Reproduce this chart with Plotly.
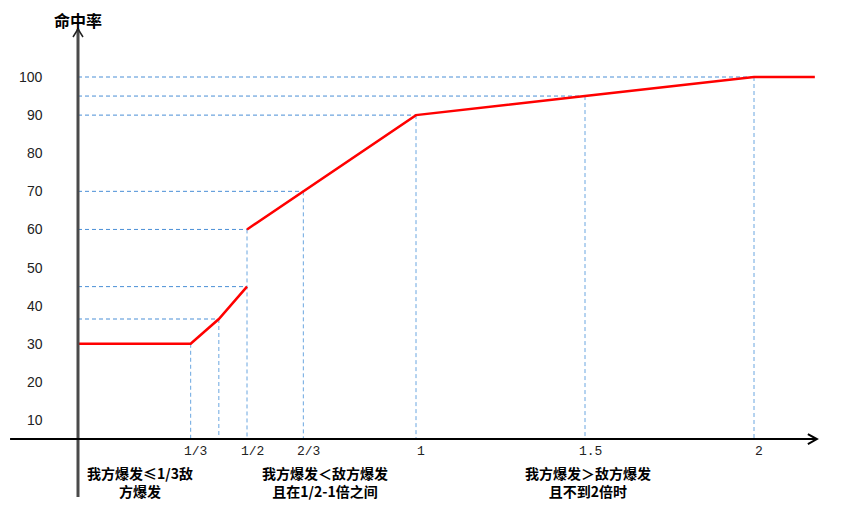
import plotly.graph_objects as go

# ratio of our burst to enemy burst (x) vs hit rate (y)
ratio_a = [0, 1/3, 5/12, 1/2]
rate_a = [30, 30, 36.5, 45]
ratio_b = [1/2, 2/3, 1, 1.5, 2, 2.18]
rate_b = [60, 70, 90, 95, 100, 100]

# points that get dashed guide lines
guide_x = [5/12, 1/2, 1/2, 2/3, 1, 1.5, 2]
guide_y = [36.5, 45, 60, 70, 90, 95, 100]
drop_x = [1/3, 5/12, 1/2, 2/3, 1, 1.5, 2]
drop_y = [30, 36.5, 60, 70, 90, 95, 100]

y_ticks = [10, 20, 30, 40, 50, 60, 70, 80, 90, 100]
x_ticks = [1/3, 1/2, 2/3, 1, 1.5, 2]
x_ticktext = ['1/3', '1/2', '2/3', '1', '1.5', '2']

regions = ['<b>我方爆发≤1/3敌<br>方爆发</b>',
           '<b>我方爆发＜敌方爆发<br>且在1/2-1倍之间</b>',
           '<b>我方爆发＞敌方爆发<br>且不到2倍时</b>']
region_x = [0.184, 0.731, 1.509]

X_AXIS_Y = 5  # where the horizontal axis crosses

# page body adds ~8px offset, so map: x px = 70 + 338*v, y px = 450.1 - 3.811*v
OX, OY = 70, 450.1
xr = [-OX / 338, (865 - OX) / 338]
yr = [(OY - 513) / 3.811, OY / 3.811]

fig = go.Figure()

hx, hy = [], []
for x, y in zip(guide_x, guide_y):
    hx += [0, x, None]
    hy += [y, y, None]
fig.add_trace(go.Scatter(x=hx, y=hy, mode='lines', hoverinfo='skip',
                         line=dict(color='#4a8fd6', width=1, dash='4px,3px')))

vx, vy = [], []
for x, y in zip(drop_x, drop_y):
    vx += [x, x, None]
    vy += [y, X_AXIS_Y, None]
fig.add_trace(go.Scatter(x=vx, y=vy, mode='lines', hoverinfo='skip',
                         line=dict(color='#6aa6e0', width=1, dash='4px,3px')))

fig.add_trace(go.Scatter(x=ratio_a + [None] + ratio_b, y=rate_a + [None] + rate_b,
                         mode='lines', line=dict(color='#ff0000', width=2.5)))

# axes with open arrowheads
dx, dy = 9 / 338, 5 / 3.811
x_end = 2.186
y_top = 112.6
fig.add_shape(type='line', x0=0, x1=0, y0=-10.2, y1=y_top,
              line=dict(color='#4a4a4a', width=3))
fig.add_shape(type='path', path=f'M {-5/338},{y_top - 8/3.811} L 0,{y_top} L {5/338},{y_top - 8/3.811}',
              line=dict(color='#222', width=1.5))
fig.add_shape(type='line', x0=-0.201, x1=x_end, y0=X_AXIS_Y, y1=X_AXIS_Y,
              line=dict(color='#000', width=2))
fig.add_shape(type='path', path=f'M {x_end - dx},{X_AXIS_Y + dy} L {x_end},{X_AXIS_Y} L {x_end - dx},{X_AXIS_Y - dy}',
              line=dict(color='#000', width=2))

for t in y_ticks:
    fig.add_annotation(x=-33 / 338, y=t, text=str(t), showarrow=False, xanchor='right',
                       font=dict(family='Liberation Sans', size=14, color='#222'))
for t, lab in zip(x_ticks, x_ticktext):
    fig.add_annotation(x=t, y=X_AXIS_Y, text=lab, showarrow=False, yanchor='top',
                       xshift=5, yshift=-3,
                       font=dict(family='Liberation Mono', size=13, color='#222'))
for t, x in zip(regions, region_x):
    fig.add_annotation(x=x, y=X_AXIS_Y, text=t, showarrow=False, yanchor='top',
                       yshift=-22,
                       font=dict(family='Noto Sans CJK SC', size=14, color='#000'))

fig.add_annotation(x=0, y=yr[1], text='<b>命中率</b>', showarrow=False, yanchor='top',
                   yshift=2, font=dict(family='Noto Sans CJK SC', size=16, color='#000'))

fig.update_layout(
    width=865, height=513,
    margin=dict(l=0, r=0, t=0, b=0),
    paper_bgcolor='white', plot_bgcolor='white',
    showlegend=False,
    xaxis=dict(range=xr, visible=False, fixedrange=True),
    yaxis=dict(range=yr, visible=False, fixedrange=True),
)

fig.write_html('out.html')
